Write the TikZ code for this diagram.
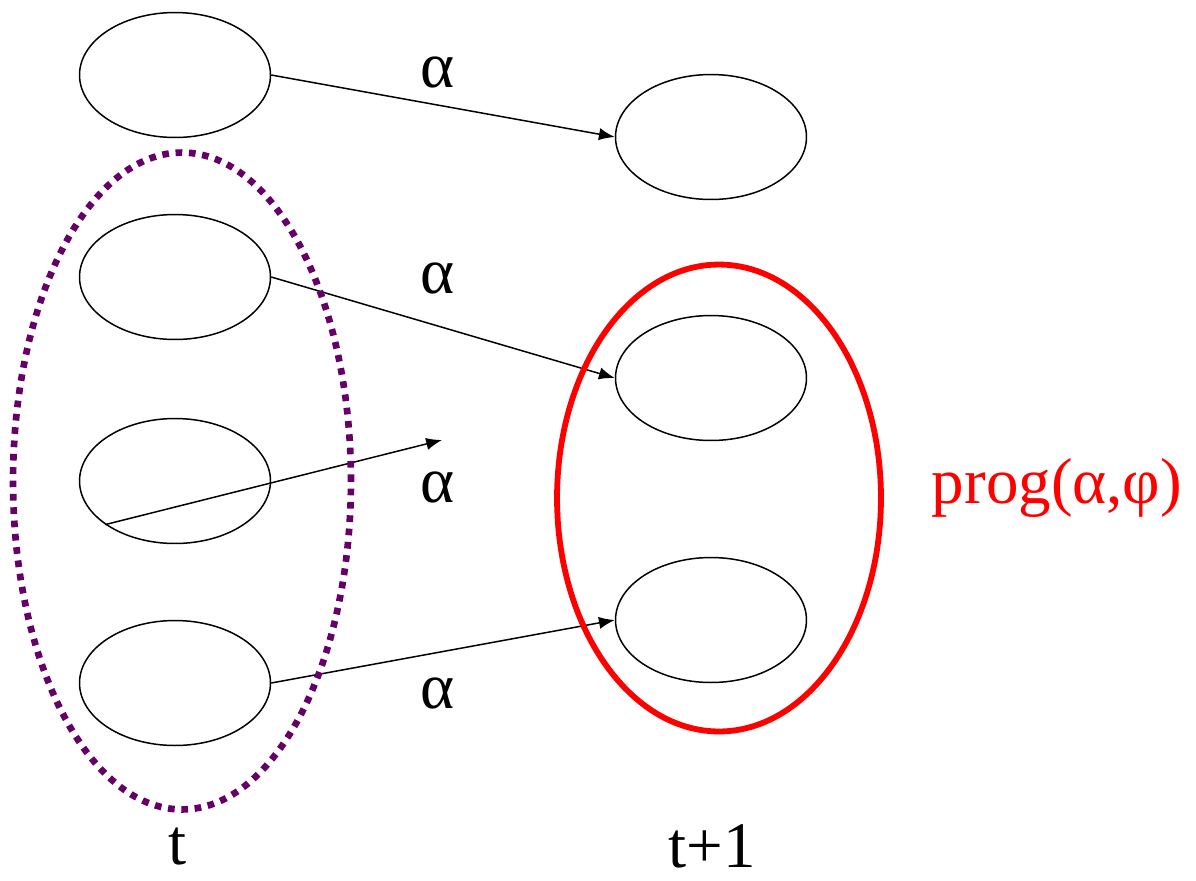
\documentclass[tikz,border=0pt]{standalone}
\usepackage{fontspec}
\setmainfont{Liberation Serif}
\usepackage{tikz}
\usetikzlibrary{shapes.geometric, arrows.meta, positioning}

\begin{document}
\begin{tikzpicture}[
    x=0.02cm, y=-0.02cm,
    every node/.style={font=\fontsize{37}{40}\selectfont},
    stateNode/.style={ellipse, draw=black, line width=0.85pt, inner sep=0pt, minimum width=3.82cm, minimum height=2.5cm},
    groupT/.style={ellipse, draw={rgb,255:red,102;green,0;blue,102}, line width=3.8pt, dash pattern=on 3.8pt off 3.8pt, inner sep=0pt, minimum width=6.76cm, minimum height=13.14cm},
    progSet/.style={ellipse, draw=red, line width=3.3pt, inner sep=0pt, minimum width=6.48cm, minimum height=9.34cm},
    trans/.style={-{Latex[length=9pt, width=7pt]}, line width=0.85pt},
    lbl/.style={inner sep=0pt}
]
\useasboundingbox (0,0) rectangle (1196,880);

% ============== estados en t ==============
\node[stateNode] (t1) at (175,75)  {};
\node[stateNode] (t2) at (175,277) {};
\node[stateNode] (t3) at (175,481) {};
\node[stateNode] (t4) at (175,683) {};

% ============== estados en t+1 ==============
\node[stateNode] (n1) at (711,137) {};
\node[stateNode] (n2) at (711,378) {};
\node[stateNode] (n3) at (711,620) {};

\coordinate (free) at (442,440);

% ============== transiciones ==============
\draw[trans] (t1.east) -- (n1.west);
\draw[trans] (t2.east) -- (n2.west);
\draw[trans] (t3.212)  -- (free);
\draw[trans] (t4.east) -- (n3.west);

\node[lbl] (a1) at (438,72)  {α};
\node[lbl] (a2) at (438,278) {α};
\node[lbl] (a3) at (438,487) {α};
\node[lbl] (a4) at (438,693) {α};

% ============== conjuntos ==============
\node[groupT]  (gt)   at (182,481) {};
\node[progSet] (prog) at (719,498) {};
\node[lbl, text=red] (progLbl) at (1057,488) {prog(α,φ)};

% ============== tiempos ==============
\node[lbl] (tLbl)  at (178,846) {t};
\node[lbl] (t1Lbl) at (712,846) {t+1};
\end{tikzpicture}
\end{document}
